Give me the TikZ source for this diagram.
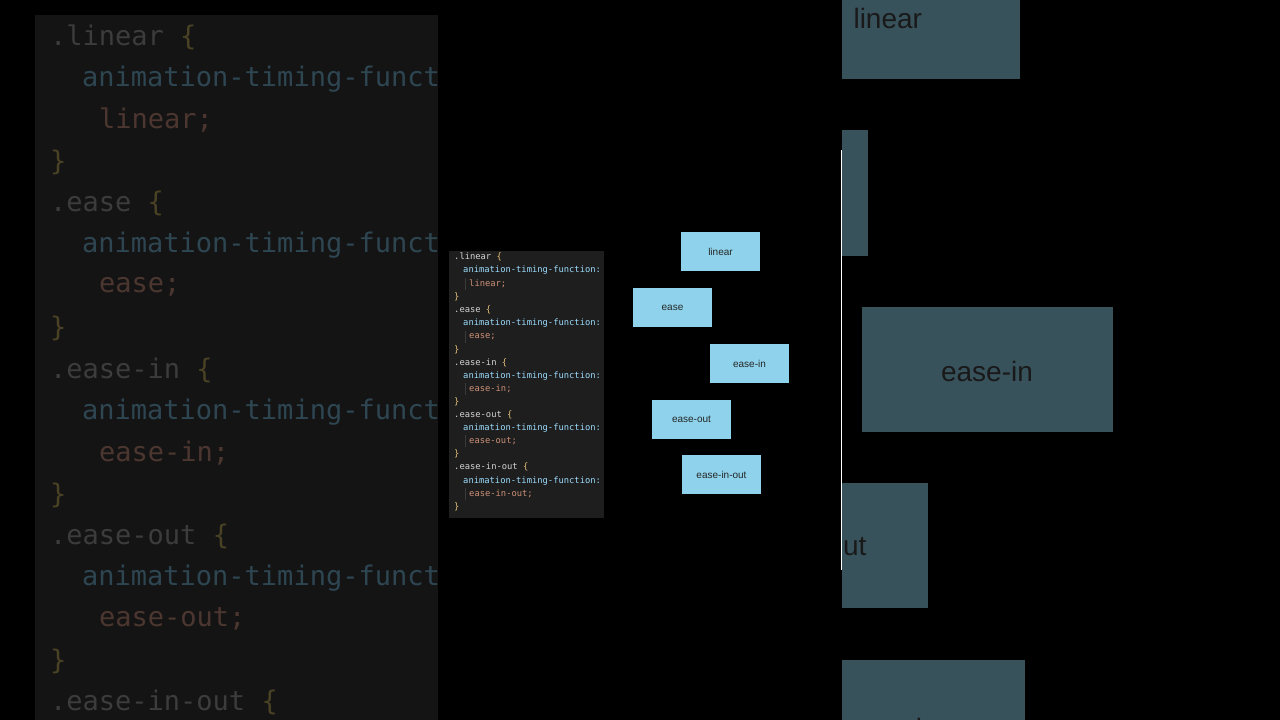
\documentclass[tikz,border=0pt]{standalone}
\usepackage{fontspec}
\setmainfont{Liberation Sans}
\newfontfamily\codefont{DejaVu Sans Mono}
\definecolor{bgpanel}{HTML}{141414}
\definecolor{codebg}{HTML}{1E1E1E}
\definecolor{selc}{HTML}{D4D4D4}
\definecolor{brc}{HTML}{E5C07B}
\definecolor{propc}{HTML}{9CDCFE}
\definecolor{valc}{HTML}{CE9178}
\definecolor{boxc}{HTML}{8ED3EB}
\definecolor{dimbox}{HTML}{38525C}
\definecolor{dsel}{HTML}{3C3C3C}
\definecolor{dbr}{HTML}{4A4224}
\definecolor{dprop}{HTML}{2E4652}
\definecolor{dval}{HTML}{4C3630}
\definecolor{guidec}{HTML}{3A3A3A}
\begin{document}
\begin{tikzpicture}[x=1pt,y=-1pt,
  bigc/.style={anchor=west,inner sep=0,font=\codefont\fontsize{27}{27}\selectfont},
  smc/.style={anchor=west,inner sep=0,font=\codefont\fontsize{8.8}{9}\selectfont},
  dimtxt/.style={font=\fontsize{28}{28}\selectfont,text=black!90},
  guide/.style={guidec,line width=0.6pt},
  anim/.style={draw=none,fill=boxc,minimum width=79pt,minimum height=39pt,inner sep=0,font=\fontsize{10}{10}\selectfont,text=black!85}]
\fill[black] (0,0) rectangle (1280,720);
\useasboundingbox (0,0) rectangle (1280,720);
% left blurred code
\fill[bgpanel] (35,15) rectangle (438,720);
\begin{scope}
\clip (35,15) rectangle (438,720);
\foreach \n/\y in {linear/37,ease/203,ease-in/370,ease-out/536,ease-in-out/702}{
  \node[bigc,text=dsel] (s\n) at (50,\y) {.\n{} \textcolor{dbr}{\{}};
}
\foreach \y in {79,245,412,578}{\node[bigc,text=dprop] (p\y) at (82,\y) {animation-timing-function:};}
\foreach \n/\y in {linear/120,ease/287,ease-in/453,ease-out/619}{\node[bigc,text=dval] (v\n) at (99,\y) {\n;};}
\foreach \y in {162,328,495,661}{\node[bigc,text=dbr] (b\y) at (50,\y) {\}};}
\end{scope}
% right blurred boxes
\begin{scope}
\clip (842,0) rectangle (1280,720);
\fill[dimbox] (842,0) rectangle (1020,79);
\node[dimtxt,anchor=west] (bl) at (850,18) {linear};
\fill[dimbox] (842,130) rectangle (868,256);
\fill[dimbox] (862,307) rectangle (1113,432);
\node[dimtxt] (bei) at (987,371) {ease-in};
\fill[dimbox] (842,483) rectangle (928,608);
\node[dimtxt,anchor=east] (beo) at (870,547) {ut};
\fill[dimbox] (842,660) rectangle (1025,720);
\node[dimtxt] (beio) at (916,728) {ease-in-out};
\end{scope}
\draw[white!80,line width=1pt] (841,150) -- (841,570);
% center code panel
\fill[codebg] (449,251) rectangle (604,518);
\foreach \y in {284,337,389,441,494}{\draw[guide] (465,\y-6) -- (465,\y+6);}
\foreach \n/\y in {linear/257,ease/310,ease-in/363,ease-out/415,ease-in-out/467}{
  \node[smc,text=selc] (c\n) at (454,\y) {.\n{} \textcolor{brc}{\{}};
}
\foreach \y in {270,323,376,428,481}{\node[smc,text=propc] (cp\y) at (463,\y) {animation-timing-function:};}
\foreach \n/\y in {linear/284,ease/337,ease-in/389,ease-out/441,ease-in-out/494}{\node[smc,text=valc] (cv\n) at (469,\y) {\n;};}
\foreach \y in {297,350,402,454,507}{\node[smc,text=brc] (cb\y) at (454,\y) {\}};}
% animated boxes
\node[anim] (linear) at (720.5,251.5) {linear};
\node[anim] (ease) at (672.5,307.5) {ease};
\node[anim] (easein) at (749.5,363.5) {ease-in};
\node[anim] (easeout) at (691.5,419.5) {ease-out};
\node[anim] (easeinout) at (721.5,474.5) {ease-in-out};
\end{tikzpicture}
\end{document}
